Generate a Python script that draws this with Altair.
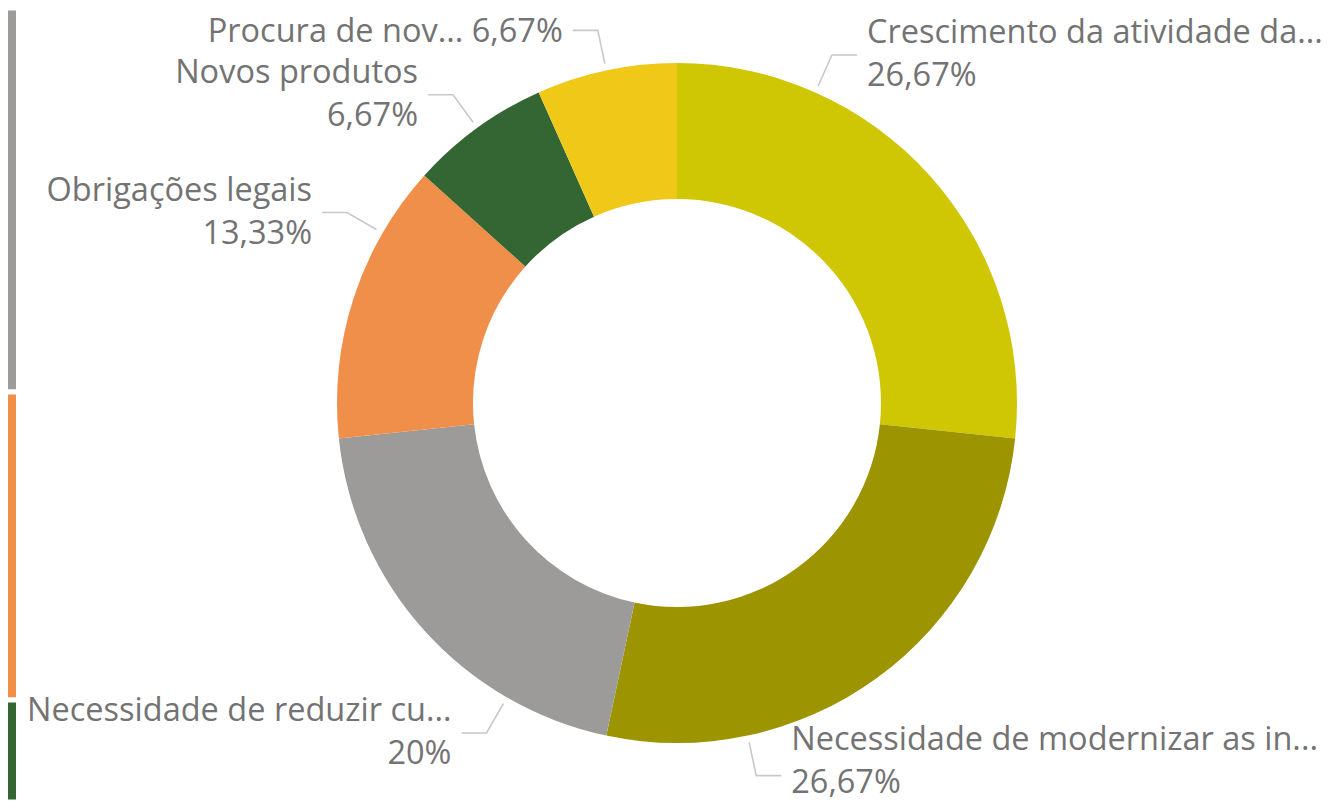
import math
import altair as alt
import pandas as pd

# ---------------- data ----------------
categories = [
    "Crescimento da atividade da...",
    "Necessidade de modernizar as in...",
    "Necessidade de reduzir cu...",
    "Obrigações legais",
    "Novos produtos",
    "Procura de nov...",
]
counts = [4, 4, 3, 2, 1, 1]
colors = ["#CFC604", "#9C9400", "#9C9B99", "#F08F4A", "#336633", "#F0C817"]

# fragment of a neighbouring stacked bar visible at the left edge
strip_names = ["gray", "orange", "green"]
strip_values = [384, 308, 102]
strip_colors = ["#9C9B99", "#F08F4A", "#336633"]

# ---------------- layout / style ----------------
W, H = 1322, 794
CX, CY = 669, 395
R_OUT, R_IN = 340, 204
R_LINE0, R_LINE1 = 347, 381
HSEG, GAP = 25, 10
LINE_H = 43
label_shift = [-24, 24, -18, 12, 0, 0]     # degrees moved from slice middle
single_line = [False, False, False, False, False, True]
TEXT_COLOR = "#737373"
FONT = "Open Sans"
FONT_SIZE = 32.5
BOTTOM_LIMIT = H - 19
TOP_LIMIT = 24

total = sum(counts)


def fmt(p):
    s = f"{p:.2f}".rstrip("0").rstrip(".")
    return s.replace(".", ",") + "%"


df = pd.DataFrame({"category": categories, "value": counts, "idx": list(range(len(counts)))})

rows_text, rows_line = [], []
cum = 0
for i, (cat, v) in enumerate(zip(categories, counts)):
    mid = (cum + v / 2) / total * 360
    cum += v
    a = math.radians(mid + label_shift[i])
    dx, dy = math.sin(a), -math.cos(a)
    sx, sy = CX + R_LINE0 * dx, CY + R_LINE0 * dy
    ex, ey = CX + R_LINE1 * dx, CY + R_LINE1 * dy
    side = 1 if dx > 0 else -1
    hx = ex + side * HSEG
    pct = fmt(v / total * 100)
    if single_line[i]:
        label, n = f"{cat} {pct}", 1
    else:
        label, n = f"{cat}\n{pct}", 2
    ty = ey - (n - 1) * LINE_H / 2
    last = ty + (n - 1) * LINE_H
    if last > BOTTOM_LIMIT:
        ty -= last - BOTTOM_LIMIT
    if ty < TOP_LIMIT:
        ty = TOP_LIMIT
    rows_text.append({"category": cat, "label": label, "tx": hx + side * GAP, "ty": ty,
                      "side": "right" if side > 0 else "left"})
    for k, (px, py) in enumerate([(sx, sy), (ex, ey), (hx, ey)]):
        rows_line.append({"category": cat, "pt": k, "lx": px, "ly": py})

text_df = pd.DataFrame(rows_text)
line_df = pd.DataFrame(rows_line)

s0, s1, acc = [], [], 0
for v in strip_values:
    s0.append(acc)
    acc += v
    s1.append(acc)
strip_df = pd.DataFrame({"name": strip_names, "y0": s0, "y1": s1, "hex": strip_colors})

arc = alt.Chart(df).mark_arc(outerRadius=R_OUT, innerRadius=R_IN).encode(
    theta=alt.Theta("value:Q", stack=True),
    color=alt.Color("category:N", scale=alt.Scale(domain=categories, range=colors), legend=None),
    order=alt.Order("idx:Q"),
    x=alt.value(CX),
    y=alt.value(CY),
)

lines = alt.Chart(line_df).mark_line(color="#C8C8C8", strokeWidth=1.6).encode(
    x=alt.X("lx:Q", scale=None, axis=None),
    y=alt.Y("ly:Q", scale=None, axis=None),
    detail="category:N",
    order="pt:Q",
)

text_right = alt.Chart(text_df).transform_filter(alt.datum.side == "right").mark_text(
    font=FONT, fontSize=FONT_SIZE, color=TEXT_COLOR, lineBreak="\n", lineHeight=LINE_H,
    align="left", baseline="middle",
).encode(
    x=alt.X("tx:Q", scale=None, axis=None),
    y=alt.Y("ty:Q", scale=None, axis=None),
    text="label:N",
)

text_left = alt.Chart(text_df).transform_filter(alt.datum.side == "left").mark_text(
    font=FONT, fontSize=FONT_SIZE, color=TEXT_COLOR, lineBreak="\n", lineHeight=LINE_H,
    align="right", baseline="middle",
).encode(
    x=alt.X("tx:Q", scale=None, axis=None),
    y=alt.Y("ty:Q", scale=None, axis=None),
    text="label:N",
)

strip = alt.Chart(strip_df).mark_rect(stroke="white", strokeWidth=5).encode(
    x=alt.value(-3),
    x2=alt.value(10.5),
    y=alt.Y("y0:Q", scale=None, axis=None),
    y2="y1:Q",
    fill=alt.Fill("hex:N", scale=None),
)

chart = alt.layer(arc, lines, text_right, text_left, strip).properties(
    width=W, height=H, padding=0,
    autosize=alt.AutoSizeParams(type="none"),
    background="white",
).configure_view(stroke=None)

chart.save("out.html", embed_options={"renderer": "svg", "actions": False})
